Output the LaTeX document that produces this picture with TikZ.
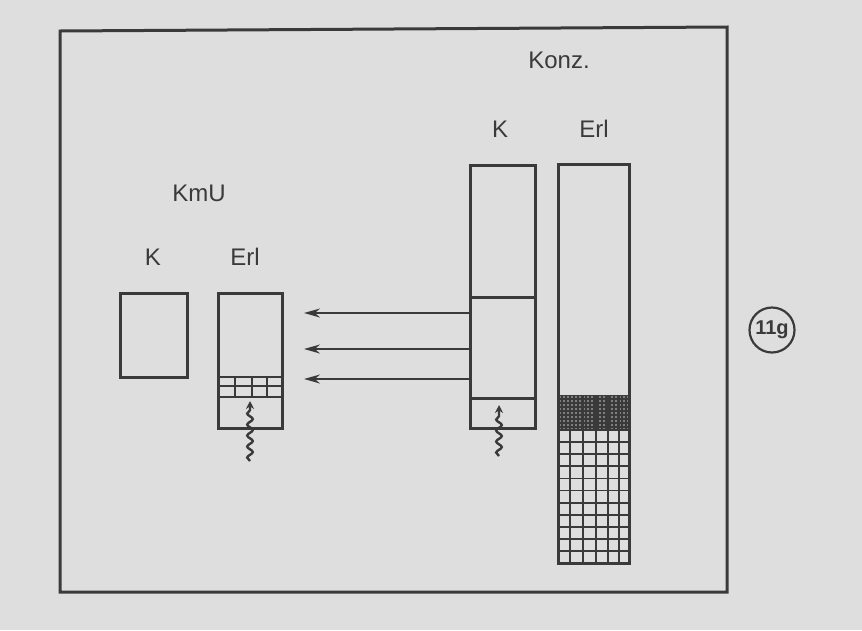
\documentclass[tikz,border=0pt]{standalone}
\usepackage{fontspec}
\setmainfont{Liberation Sans}
\usetikzlibrary{arrows.meta,decorations.pathmorphing}
\definecolor{paper}{RGB}{222,222,222}
\definecolor{ink}{RGB}{58,58,58}
\tikzset{
  box/.style={draw=ink,line width=3pt,inner sep=0pt,outer sep=0pt,anchor=north west},
  lbl/.style={text=ink,font=\fontsize{24}{28}\selectfont,inner sep=0pt},
  gridline/.style={draw=ink,line width=1.8pt},
  flow/.style={draw=ink,line width=1.6pt,-{Stealth[length=16pt,width=9pt]}},
  wig/.style={draw=ink,line width=2.4pt,decorate,decoration={snake,amplitude=2.8pt,segment length=11pt,post length=6pt},-{Stealth[length=8pt,width=8pt]}}
}
\begin{document}
\begin{tikzpicture}[x=1pt,y=-1pt]
\fill[paper] (0,0) rectangle (862,630);
\useasboundingbox (0,0) rectangle (862,630);
% frame
\draw[ink,line width=3pt] (60,31) -- (727,27) -- (727,592) -- (60,592) -- cycle;
% labels
\node[lbl] (konz) at (559,60) {Konz.};
\node[lbl] (kr) at (500,129) {K};
\node[lbl] (erlr) at (594,129) {Erl};
\node[lbl] (kmu) at (199,193) {KmU};
\node[lbl] (kl) at (153,257) {K};
\node[lbl] (erll) at (245,257) {Erl};
% left boxes
\node[box,minimum width=67pt,minimum height=84pt] (bkl) at (120,293) {};
\node[box,minimum width=64pt,minimum height=135pt] (bel) at (218,293) {};
\foreach \y in {377,386,397} \draw[gridline] (218,\y) -- (282,\y);
\foreach \x in {235,252,267} \draw[gridline] (\x,377) -- (\x,397);
% right K box
\node[box,minimum width=65pt,minimum height=263pt] (bkr) at (470,165) {};
\draw[ink,line width=3pt] (470,297) -- (535,297);
\draw[ink,line width=3pt] (470,398) -- (535,398);
% right Erl box
\begin{scope}
\clip (558,395) rectangle (629,430);
\fill[ink!65] (558,395) rectangle (629,430);
\foreach \y in {395,399,...,431} \draw[ink,line width=1.4pt] (558,\y) -- (629,\y);
\foreach \x in {558,562,...,630} \draw[ink,line width=1.4pt] (\x,395) -- (\x,430);
\end{scope}
\foreach \i in {1,...,10} \draw[gridline] (558,430+\i*12.1) -- (629,430+\i*12.1);
\draw[gridline] (558,430) -- (629,430);
\foreach \x in {570,583,596,608,619} \draw[gridline] (\x,395) -- (\x,563);
\node[box,minimum width=71pt,minimum height=399pt] (ber) at (558,164) {};
% arrows
\coordinate (a1) at (304,313);
\coordinate (a2) at (304,349);
\coordinate (a3) at (304,379);
\draw[flow] (bkr.west |- a1) -- (a1);
\draw[flow] (bkr.west |- a2) -- (a2);
\draw[flow] (bkr.west |- a3) -- (a3);
% wiggly arrows
\coordinate (w1s) at (250,461);
\coordinate (w1e) at (250,401);
\coordinate (w2s) at (499,456);
\coordinate (w2e) at (499,405);
\draw[wig] (w1s) -- (w1e);
\draw[wig] (w2s) -- (w2e);
% label circle
\node[draw=ink,line width=2.2pt,circle,minimum size=45pt,inner sep=0pt,text=ink,font=\fontsize{20}{22}\selectfont\bfseries] (tag) at (772,330) {11g};
\end{tikzpicture}
\end{document}
